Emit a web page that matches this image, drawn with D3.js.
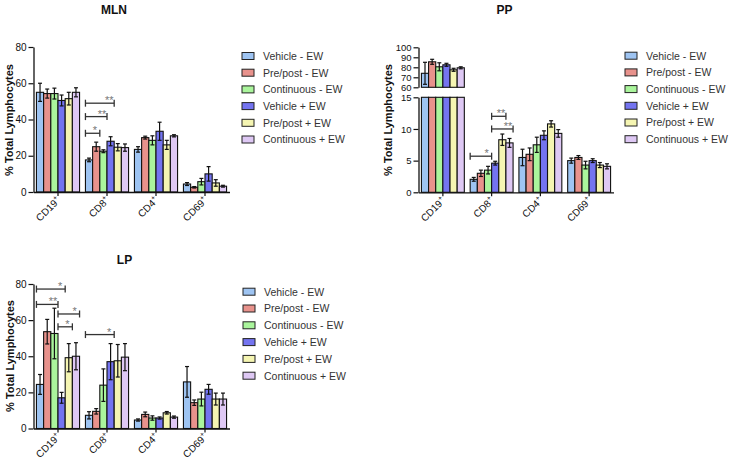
<!DOCTYPE html>
<html><head><meta charset="utf-8">
<script src="https://cdn.jsdelivr.net/npm/d3@7"></script>
<style>body{margin:0;background:#fff;} svg{display:block;font-family:"Liberation Sans",Arial,sans-serif;}</style>
</head><body><svg id="c" width="733" height="469"></svg>
<script>
const categories = ["CD19", "CD8", "CD4", "CD69"];
const series = ["Vehicle - EW", "Pre/post - EW", "Continuous - EW", "Vehicle + EW", "Pre/post + EW", "Continuous + EW"];
const colors = ["#9ec4f2", "#e8928c", "#aaf59c", "#7474f0", "#f5f5b2", "#dec8f4"];

// means: one row per series, one column per category
const mlnMeans = [[55, 17.7, 23.5, 4.4], [54.3, 25, 30, 2.6], [54.3, 22.5, 28.5, 5.7], [50.5, 28, 33.5, 10], [51.5, 24.7, 26, 5], [55, 24.5, 31, 3.2]];
const mlnErrors = [[5, 1, 1.5, 0.8], [2.5, 2.5, 0.8, 0.4], [3, 0.8, 2.5, 1.8], [3, 2.5, 5, 4], [3.5, 2, 2.5, 1.8], [2.5, 2, 0.6, 0.5]];
const ppMeans = [[74, 2.05, 5.5, 5.0], [85.5, 3.0, 6.0, 5.5], [80.5, 3.5, 7.5, 4.3], [82.5, 4.6, 9.0, 5.0], [77.5, 8.3, 10.8, 4.3], [79.5, 7.8, 9.3, 4.1]];
const ppErrors = [[11, 0.3, 1.3, 0.4], [2.5, 0.5, 1.0, 0.3], [4, 0.6, 1.2, 0.6], [1.5, 0.3, 0.7, 0.3], [1.5, 0.9, 0.5, 0.4], [1, 0.7, 0.6, 0.4]];
const lpMeans = [[24.4, 7.3, 4.7, 25.8], [53.6, 9.5, 7.8, 14.3], [52.6, 24, 5.8, 16.3], [17, 37, 5.8, 21.7], [39.2, 37.5, 8.7, 16.3], [40, 39.5, 6.3, 16.3]];
const lpErrors = [[5.5, 2, 0.6, 8.5], [6.8, 1.5, 1.3, 1.5], [14, 9, 1.2, 3.8], [3, 10, 0.6, 2.7], [7.8, 9, 0.7, 3.3], [7.5, 7.5, 0.6, 3.3]];

const mlnTicks = [0, 20, 40, 60, 80];
const ppLowTicks = [0, 5, 10, 15];
const ppHighTicks = [60, 70, 80, 90, 100];
const lpTicks = [0, 20, 40, 60, 80];

// significance comparisons: category, first series, last series, height, label
const mlnSig = [["CD8", 0, 1, 32.4, "*"], ["CD8", 0, 2, 41.6, "**"], ["CD8", 0, 3, 49, "**"]];
const ppSig = [["CD8", 0, 2, 5.7, "*"], ["CD8", 3, 4, 12, "**"], ["CD8", 3, 5, 10, "**"]];
const lpSig = [["CD19", 0, 3, 77.2, "*"], ["CD19", 0, 2, 68.7, "**"], ["CD19", 3, 5, 63.4, "*"], ["CD19", 3, 4, 56.3, "*"], ["CD8", 0, 3, 52, "*"]];

const svg = d3.select("#c");

function panel(cfg) {
  const g = svg.append("g");
  const segs = cfg.segments.map(s => Object.assign({}, s, {y: d3.scaleLinear().domain(s.domain).range(s.range)}));
  const x0 = d3.scaleBand().domain(categories).range([cfg.xStart, cfg.xEnd]).paddingInner(0.12).paddingOuter(0.06);
  const x1 = d3.scaleBand().domain(d3.range(series.length)).range([0, x0.bandwidth()]);
  const bw = x1.bandwidth();
  const axisY = segs[0].range[0];

  // bars
  cfg.means.forEach((row, si) => row.forEach((v, ci) => {
    const bx = x0(categories[ci]) + x1(si);
    segs.forEach(s => {
      const lo = s.domain[0], hi = s.domain[1];
      if (v <= lo) return;
      const top = Math.min(v, hi);
      g.append("rect").attr("x", bx).attr("y", s.y(top)).attr("width", bw).attr("height", s.y(lo) - s.y(top))
        .attr("fill", colors[si]).attr("stroke", "#111").attr("stroke-width", 1.1);
    });
    // error bar
    const e = cfg.errors[si][ci];
    const s = segs.find(s => v >= s.domain[0] && v <= s.domain[1]);
    const cx = bx + bw / 2;
    const yLo = s.y(Math.max(v - e, s.domain[0])), yHi = s.y(Math.min(v + e, s.domain[1]));
    g.append("line").attr("x1", cx).attr("x2", cx).attr("y1", yLo).attr("y2", yHi).attr("stroke", "#111").attr("stroke-width", 1.2);
    [yLo, yHi].forEach(yy => g.append("line").attr("x1", cx - 2).attr("x2", cx + 2).attr("y1", yy).attr("y2", yy).attr("stroke", "#111").attr("stroke-width", 1.2));
  }));

  // y axes
  segs.forEach(s => {
    const ax = g.append("g").attr("transform", `translate(${cfg.xStart},0)`)
      .call(d3.axisLeft(s.y).tickValues(s.ticks).tickSize(5).tickSizeOuter(0).tickPadding(2));
    ax.select(".domain").attr("stroke", "#111").attr("stroke-width", 1.3);
    ax.selectAll(".tick line").attr("stroke", "#111").attr("stroke-width", 1.2);
    ax.selectAll(".tick text").attr("font-size", cfg.tickFont).attr("font-family", "Liberation Sans, Arial, sans-serif").attr("fill", "#111");
  });

  // x axis
  const xa = g.append("g").attr("transform", `translate(0,${axisY})`)
    .call(d3.axisBottom(x0).tickSize(4).tickSizeOuter(0).tickFormat(""));
  xa.select(".domain").attr("stroke", "#111").attr("stroke-width", 1.3);
  xa.selectAll(".tick line").attr("stroke", "#111").attr("stroke-width", 1.2);
  categories.forEach(c => {
    const t = g.append("text").attr("transform", `translate(${x0(c) + x0.bandwidth() / 2 + 3},${axisY + 9}) rotate(-45)`)
      .attr("text-anchor", "end").attr("font-size", 10).attr("fill", "#111");
    t.append("tspan").text(c);
    t.append("tspan").attr("font-size", 7).attr("dy", -4).text("+");
  });

  // significance brackets
  cfg.sig.forEach(([c, a, b, v, lab]) => {
    const s = segs.find(s => v >= s.domain[0] && v <= s.domain[1]);
    const xa1 = x0(c) + x1(a), xa2 = x0(c) + x1(b) + bw, yy = s.y(v);
    g.append("line").attr("x1", xa1).attr("x2", xa2).attr("y1", yy).attr("y2", yy).attr("stroke", "#333").attr("stroke-width", 1.3);
    [xa1, xa2].forEach(xx => g.append("line").attr("x1", xx).attr("x2", xx).attr("y1", yy - 3.5).attr("y2", yy + 3.5).attr("stroke", "#333").attr("stroke-width", 1.3));
    g.append("text").attr("x", xa2 - 5).attr("y", yy + 1).attr("text-anchor", "middle").attr("font-size", 11).attr("fill", "#777").text(lab);
  });

  // titles
  g.append("text").attr("x", cfg.titleX).attr("y", cfg.titleY).attr("text-anchor", "middle").attr("font-size", 12).attr("font-weight", "bold").attr("fill", "#111").text(cfg.title);
  g.append("text").attr("transform", `translate(${cfg.ylabX},${cfg.ylabY}) rotate(-90)`).attr("text-anchor", "middle")
    .attr("font-size", 11).attr("font-weight", "bold").attr("fill", "#111").text("% Total Lymphocytes");

  // legend
  series.forEach((name, i) => {
    const ly = cfg.legY + i * cfg.legStep;
    g.append("rect").attr("x", cfg.legX).attr("y", ly - 3.5).attr("width", 12).attr("height", 7)
      .attr("fill", colors[i]).attr("stroke", "#222").attr("stroke-width", 1);
    g.append("text").attr("x", cfg.legX + 21).attr("y", ly + 3.8).attr("font-size", 10.5).attr("fill", "#333").text(name);
  });
}

panel({title: "MLN", titleX: 114, titleY: 14, ylabX: 13, ylabY: 120, xStart: 33.5, xEnd: 229.5,
  segments: [{domain: [0, 80], range: [192, 47], ticks: mlnTicks}], tickFont: 10,
  means: mlnMeans, errors: mlnErrors, sig: mlnSig, legX: 242, legY: 56, legStep: 16.7});
panel({title: "PP", titleX: 504.5, titleY: 13.5, ylabX: 392, ylabY: 120, xStart: 418.5, xEnd: 613.5,
  segments: [{domain: [0, 15], range: [192.3, 97.3], ticks: ppLowTicks}, {domain: [60, 100], range: [87.3, 47.3], ticks: ppHighTicks}], tickFont: 9.5,
  means: ppMeans, errors: ppErrors, sig: ppSig, legX: 625, legY: 55.7, legStep: 16.7});
panel({title: "LP", titleX: 124.5, titleY: 263.5, ylabX: 13.5, ylabY: 356, xStart: 33.5, xEnd: 229.5,
  segments: [{domain: [0, 80], range: [428.5, 284], ticks: lpTicks}], tickFont: 10,
  means: lpMeans, errors: lpErrors, sig: lpSig, legX: 243, legY: 291.7, legStep: 16.8});
</script></body></html>
